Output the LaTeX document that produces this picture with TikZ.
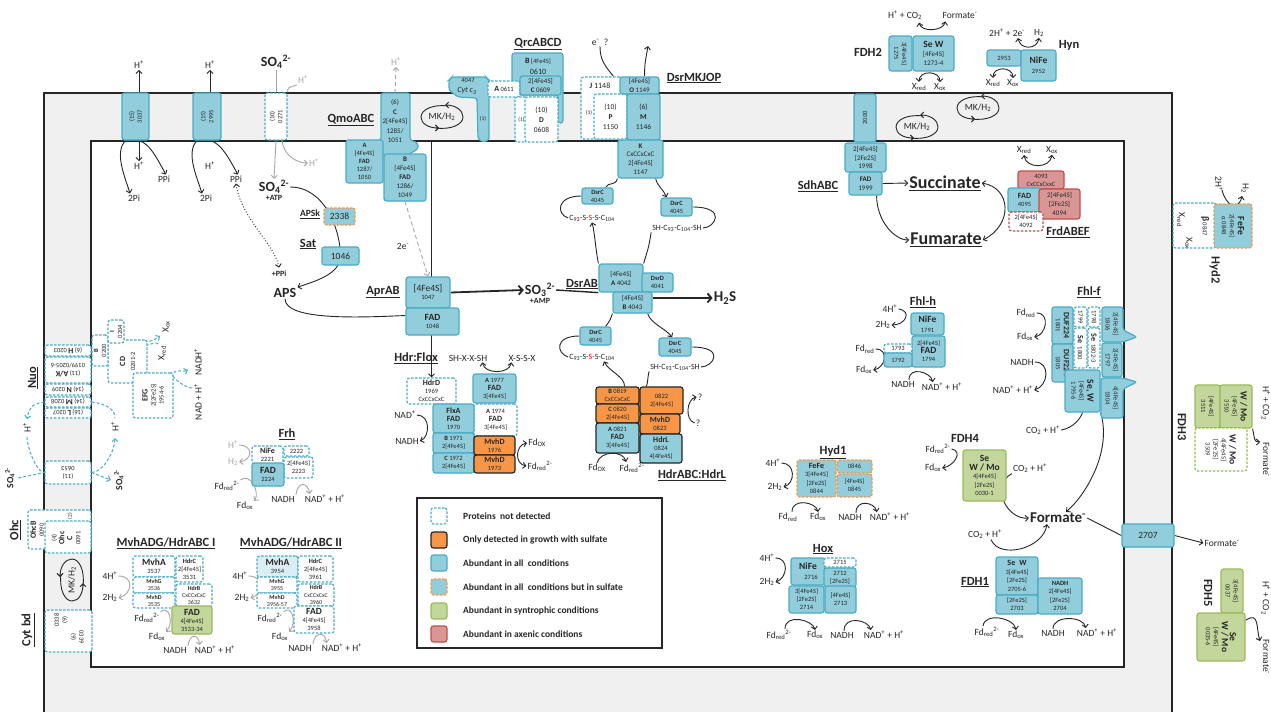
\documentclass[tikz,border=0pt]{standalone}
\usepackage{fontspec}
\setmainfont{Carlito}
\usetikzlibrary{arrows.meta,positioning}
\pgfdeclarelayer{mem}
\pgfdeclarelayer{bg}
\pgfsetlayers{mem,bg,main}

\definecolor{bfill}{HTML}{92CDDC}
\definecolor{bline}{HTML}{4BACC6}
\definecolor{ofill}{HTML}{F79646}
\definecolor{oline}{HTML}{F79646}
\definecolor{gfill}{HTML}{C3D69B}
\definecolor{gline}{HTML}{9BBB59}
\definecolor{rfill}{HTML}{D99694}
\definecolor{rline}{HTML}{C0504D}
\definecolor{lfill}{HTML}{DAEEF3}
\definecolor{memb}{HTML}{F0F0F0}
\definecolor{ink}{HTML}{262626}
\definecolor{gtxt}{HTML}{A6A6A6}

\newcommand{\fsa}{\fontsize{5.5}{6.5}\selectfont}
\newcommand{\fsb}{\fontsize{6.5}{8}\selectfont}
\newcommand{\fsm}{\fontsize{8}{9}\selectfont}
\newcommand{\fsc}{\fontsize{9.5}{10.5}\selectfont}
\newcommand{\fsl}{\fontsize{12.5}{13.5}\selectfont}
\newcommand{\fse}{\fontsize{14}{15}\selectfont}
\newcommand{\fsf}{\fontsize{18}{19}\selectfont}

\newcommand{\hp}{H\textsuperscript{+}}
\newcommand{\htwo}{H\textsubscript{2}}
\newcommand{\sofour}{SO\textsubscript{4}\textsuperscript{2-}}
\newcommand{\fdred}{Fd\textsubscript{red}}
\newcommand{\fdrr}{Fd\textsubscript{red}\textsuperscript{2-}}
\newcommand{\fdox}{Fd\textsubscript{ox}}
\newcommand{\xred}{X\textsubscript{red}}
\newcommand{\xox}{X\textsubscript{ox}}
\newcommand{\nadp}{NAD\textsuperscript{+} + \hp}
\newcommand{\feS}{[4Fe4S]}
\newcommand{\feT}{[2Fe2S]}

% box by corners: [style]{name}{x1}{y1}{x2}{y2}{text}
\newcommand{\bx}[7][bl]{%
  \node[#1,minimum width={(#5-#3)*1pt},minimum height={(#6-#4)*1pt}] (#2) at ({(#3+#5)/2},{(#4+#6)/2}) {#7};}
% box with turned text: ...{text}{angle}
\newcommand{\vbx}[8][bl]{%
  \node[#1,minimum width={(#5-#3)*1pt},minimum height={(#6-#4)*1pt}] (#2) at ({(#3+#5)/2},{(#4+#6)/2}) {};
  \node[txt,rotate=#8] (#2t) at (#2.center) {#7};}
% MK/H2 cycle
\newcommand{\mkcyc}[4]{%
  \node[font=\fsc, text=ink, inner sep=0pt, rotate=#4] (#1) at (#2,#3) {MK/H\textsubscript{2}};
  \begin{scope}[shift={(#2,#3)}, rotate=#4]
    \draw[arr] (6,-11) .. controls (-10,-13) and (-21,-7) .. (-21,0) .. controls (-21,7) and (-13,11) .. (-3,11);
    \draw[arr] (-6,11) .. controls (10,13) and (21,7) .. (21,0) .. controls (21,-7) and (13,-12) .. (3,-12);
  \end{scope}}

\tikzset{
  box/.style={rounded corners=2.5pt, line width=1.2pt, inner sep=0pt, align=center, font=\fsb, text=ink},
  bl/.style={box, draw=bline, fill=bfill},
  nd/.style={box, draw=bline, fill=white, dash pattern=on 2.5pt off 1.5pt},
  od/.style={box, draw=oline, fill=bfill, dash pattern=on 2.5pt off 1.5pt},
  ob/.style={box, draw=ink, fill=ofill},
  bk/.style={box, draw=ink, fill=bfill},
  gb/.style={box, draw=gline, fill=gfill},
  gn/.style={box, draw=gline, fill=white, dash pattern=on 2.5pt off 1.5pt},
  rb/.style={box, draw=rline, fill=rfill},
  rn/.style={box, draw=rline, fill=white, dash pattern=on 2.5pt off 1.5pt},
  lb/.style={box, draw=bline, fill=lfill, dash pattern=on 2.5pt off 1.5pt},
  txt/.style={align=center, inner sep=0pt, font=\fsb, text=ink},
  sm/.style={font=\fsc, text=ink, inner sep=1pt},
  gsm/.style={sm, text=gtxt},
  lbl/.style={font=\fsl\bfseries, text=ink, inner sep=1pt},
  big/.style={font=\fse\bfseries, text=ink, inner sep=1pt},
  lgt/.style={anchor=west, font=\fsc\bfseries, text=ink, inner sep=0pt},
  ln/.style={line width=0.9pt, draw=ink},
  arr/.style={ln, -{Straight Barb[length=3pt,width=6pt]}},
  darr/.style={ln, {Straight Barb[length=3pt,width=6pt]}-{Straight Barb[length=3pt,width=6pt]}},
  garr/.style={arr, draw=gtxt},
  gln/.style={ln, draw=gtxt},
  tarr/.style={line width=1.8pt, draw=ink, -{Straight Barb[length=4pt,width=9pt]}},
  bdln/.style={line width=1pt, draw=bline, dash pattern=on 3pt off 2pt},
  bdarr/.style={bdln, -{Straight Barb[length=3pt,width=6pt]}}
}

\begin{document}
\begin{tikzpicture}[x=1pt,y=-1pt]
\useasboundingbox (0,0) rectangle (1271,712);
\begin{pgfonlayer}{mem}
  \fill[white] (0,0) rectangle (1271,712);
  \fill[memb] (44,93) rectangle (1172,712);
  \fill[white] (91,141) rectangle (1124,667);
  \draw[line width=1.6pt, draw=ink] (44,712) -- (44,93) -- (1172,93) -- (1172,712);
  \draw[line width=1.6pt, draw=ink] (91,141) rectangle (1124,667);
\end{pgfonlayer}

% pyrophosphatases and sulfate uptake
\vbx[bl]{t3037}{122}{93}{149}{140}{(15)\\3037}{90}
\vbx[bl]{t2995}{193}{93}{221}{140}{(15)\\2995}{90}
\vbx[nd]{t0271}{265}{93}{287}{140}{(10)\\0271}{90}
\node[sm] (hA) at (139,65) {\hp};
\node[sm] (hB) at (139,166) {\hp};
\node[sm] (piA) at (134,198) {2Pi};
\node[sm] (ppA) at (164,179) {PPi};
\node[sm] (hC) at (210,65) {\hp};
\node[sm] (hD) at (210,166) {\hp};
\node[sm] (piB) at (206,198) {2Pi};
\node[sm] (ppB) at (236,179) {PPi};
\node[big] (so4a) at (276,62) {\sofour};
\node[gsm] (hE) at (303,80) {\hp};
\node[gsm] (hF) at (314,163) {\hp};
\node[big] (so4b) at (274,187) {\sofour};
\node[font=\fsm\bfseries, text=ink, inner sep=0pt, below=0pt of so4b] (atp) {+ATP};

% APS branch
\node[lbl, font=\fsc\bfseries] (apsk) at (310,214) {\underline{APSk}};
\bx[od]{k2338}{324}{208}{355}{225}{\fsc 2338}
\node[lbl] (sat) at (308,244) {\underline{Sat}};
\bx[bl]{s1046}{322}{247}{359}{265}{\fsc 1046}
\node[big] (aps) at (285,293) {APS};
\node[font=\fsm\bfseries, text=ink] (ppi) at (279,274) {+PPi};
\node[lbl] (apr) at (383,292) {\underline{AprAB}};
\bx[bl]{a1047}{406}{277}{450}{308}{\fsc \feS\\1047}
\bx[bl]{a1048}{406}{308}{459}{335}{\fsc\bfseries FAD\\\mdseries 1048}
\node[big] (so3) at (540,290) {SO\textsubscript{3}\textsuperscript{2-}};
\node[font=\fsm\bfseries, text=ink, inner sep=0pt, below=0pt of so3] (amp) {+AMP};

% QmoABC
\node[lbl] (qmo) at (351,120) {\underline{QmoABC}};
\draw[bl] (381,93) -- (410,93) -- (410,140) -- (418,143) -- (418,149) -- (404,157) -- (388,157) -- (374,149) -- (374,143) -- (381,140) -- cycle;
\node[txt, font=\fontsize{7}{9.5}\selectfont] (qmoCt) at (395,121) {(6)\\\textbf{C}\\2\feS\\1285/\\1051};
\coordinate (qmoCtop) at (395,93);
\bx[bl]{qmoA}{346}{140}{383}{183}{\textbf{A}\\\feS\\\textbf{FAD}\\1287/\\1050}
\bx[bl,font=\fontsize{7}{9}\selectfont]{qmoB}{384}{154}{426}{201}{\textbf{B}\\\feS\\\textbf{FAD}\\1286/\\1049}
\node[gsm] (hG) at (396,62) {\hp};
\node[sm] (e2) at (403,246) {2e\textsuperscript{-}};
\mkcyc{mk1}{442}{117}{0}

% Cyt c3 and QrcABCD
\draw[bl] (452,77) -- (486,77) -- (489,80) -- (489,140) -- (483,142) -- (478,139) -- (477,98) -- (458,97) -- (449,90) -- (449,80) -- cycle;
\node[txt] (cytn) at (468,80) {4047};
\node[txt, font=\fsm\itshape] (cytc) at (467,91) {Cyt c\textsubscript{3}};
\node[txt, font=\fsa] (cyt1) at (483,119) {(1)};
\node[lbl] (qrc) at (538,44) {\underline{QrcABCD}};
\draw[bl] (512,53) -- (563,53) -- (563,123) -- (558,123) -- (558,95) -- (512,95) -- cycle;
\node[txt] (qrcBt) at (538,61) {{\fsm\bfseries B} \feS};
\node[txt, font=\fsm] (qrcBn) at (538,72) {0610};
\bx[nd]{qrcA}{488}{81}{520}{97}{{\fsm\bfseries A} 0611}
\bx[nd]{qrc1}{515}{97}{528}{142}{\fsa (1)}
\bx[nd,font=\fontsize{7.5}{10}\selectfont]{qrcD}{525}{97}{558}{142}{(10)\\\textbf{D}\\0608}
\bx[bl,font=\fontsize{7}{9}\selectfont]{qrcC}{520}{76}{561}{95}{2\feS\\\textbf{C} 0609}

% DsrMKJOP
\node[lbl] (dsrm) at (694,78) {\underline{DsrMKJOP}};
\node[sm] (eq) at (600,42) {e\textsuperscript{-}\enspace ?};
\coordinate (oup) at (648,46);
\bx[nd]{dJ}{581}{77}{622}{139}{}
\node[txt, font=\fsm] (dJt) at (600,86) {\textbf{J} 1148};
\node[txt, font=\fsa] (dJ1) at (589,113) {(1)};
\bx[nd,font=\fontsize{7.5}{10}\selectfont]{dP}{594}{94}{627}{139}{(10)\\\textbf{P}\\1150}
\bx[bl,font=\fontsize{7}{9}\selectfont]{dO}{620}{77}{659}{94}{\feS\\\textbf{O} 1149}
\bx[bl,font=\fontsize{7.5}{10}\selectfont]{dM}{627}{94}{660}{140}{(6)\\\textbf{M}\\1146}
\bx[bl,font=\fontsize{7}{8.7}\selectfont]{dK}{618}{140}{663}{178}{\textbf{K}\\CxCCxCxC\\2\feS\\1147}
\bx[bl]{dc1}{582}{188}{613}{204}{\textbf{DsrC}\\4045}
\node[sm, font=\fsm] (c93a) at (592,218) {C\textsubscript{93}-S-\textcolor{red}{S}-S-C\textsubscript{104}};
\bx[bl]{dc2}{661}{198}{692}{216}{\textbf{DsrC}\\4045}
\node[sm, font=\fsm] (sh1) at (677,228) {SH-C\textsubscript{93}-C\textsubscript{104}-SH};

% DsrAB
\node[lbl] (dsrab) at (582,284) {\underline{DsrAB}};
\bx[bl,font=\fontsize{7}{9}\selectfont]{dA}{599}{264}{643}{292}{\feS\\\textbf{A} 4042}
\bx[bl]{dD}{642}{273}{673}{292}{\textbf{DsrD}\\4041}
\bx[bl,font=\fontsize{7}{9}\selectfont]{dB}{613}{292}{652}{313}{\feS\\\textbf{B} 4043}
\node[big, font=\fontsize{15}{16}\selectfont\bfseries] (h2s) at (725,298) {H\textsubscript{2}S};
\bx[bl]{dc3}{580}{327}{611}{345}{\textbf{DsrC}\\4045}
\node[sm, font=\fsm] (c93b) at (592,357) {C\textsubscript{93}-S-\textcolor{red}{S}-S-C\textsubscript{104}};
\bx[bl]{dc4}{659}{338}{691}{356}{\textbf{DsrC}\\4045}
\node[sm, font=\fsm] (sh2) at (675,367) {SH-C\textsubscript{93}-C\textsubscript{104}-SH};

% HdrABC:HdrL
\bx[ob]{h19}{596}{387}{639}{404}{\textbf{B} 0819\\CxCCxCxC}
\bx[ob]{h20}{596}{404}{639}{423}{\textbf{C} 0820\\2\feS}
\bx[bk]{h21}{596}{423}{639}{453}{\textbf{A} 0821\\{\fsm\bfseries FAD}\\3\feS}
\bx[ob]{h22}{640}{387}{683}{414}{0822\\2\feS}
\bx[ob]{h23}{640}{414}{680}{434}{{\fsm\bfseries MvhD}\\0823}
\bx[bk]{h24}{640}{434}{682}{463}{{\fsm\bfseries HdrL}\\0824\\4\feS}
\node[sm] (q1) at (700,397) {?};
\node[sm] (q2) at (698,423) {?};
\node[sm] (fdo3) at (597,468) {Fd\textsubscript{OX}};
\node[sm] (fdr3) at (632,468) {\fdrr};
\node[lbl] (hdrl) at (692,475) {\underline{HdrABC:HdrL}};

% Hdr:Flox
\node[lbl] (flox) at (416,358) {\underline{Hdr:Flox}};
\node[sm] (shx) at (468,358) {SH-X-X-SH};
\node[sm] (xss) at (522,358) {X-S-S-X};
\bx[nd]{hD}{407}{378}{456}{404}{{\fsm\bfseries HdrD}\\1969\\CxCCxCxC}
\bx[bl]{fA7}{473}{374}{516}{403}{\textbf{A} 1977\\{\fsm\bfseries FAD}\\3\feS}
\bx[nd]{fA4}{474}{404}{517}{436}{\textbf{A} 1974\\{\fsm\bfseries FAD}\\3\feS}
\bx[bl]{flx}{433}{404}{474}{433}{{\fsm\bfseries FlxA}\\{\fsm\bfseries FAD}\\1970}
\bx[bl]{fB}{433}{433}{474}{453}{\textbf{B} 1971\\2\feS}
\bx[bl]{fC}{433}{453}{474}{473}{\textbf{C} 1972\\2\feS}
\bx[ob]{m76}{474}{436}{515}{455}{{\fsm\bfseries MvhD}\\1976}
\bx[ob]{m73}{474}{455}{515}{473}{{\fsm\bfseries MvhD}\\1973}
\node[sm] (nadA) at (405,415) {NAD\textsuperscript{+}};
\node[sm] (nadhA) at (407,441) {NADH};
\node[sm] (fdoA) at (537,443) {Fd\textsubscript{OX}};
\node[sm] (fdrA) at (540,466) {\fdrr};

% Frh
\node[lbl] (frh) at (287,434) {\underline{Frh}};
\bx[nd]{frA}{252}{446}{283}{464}{{\fsm\bfseries NiFe}\\2221}
\bx[nd]{frG}{284}{446}{309}{456}{2222}
\bx[nd]{frB}{284}{457}{313}{478}{2\feS\\2223}
\bx[bl]{frF}{252}{463}{284}{486}{{\fsc\bfseries FAD}\\2224}
\node[gsm] (hFr) at (233,445) {\hp};
\node[gsm] (h2Fr) at (233,462) {\htwo};
\node[sm] (fdrFr) at (227,486) {\fdrr};
\node[sm] (fdoFr) at (245,506) {\fdox};
\node[sm] (nadhFr) at (283,499) {NADH};
\node[sm] (nadFr) at (325,499) {\nadp};

% Nuo
\node[lbl, rotate=90] (nuo) at (33,378) {\underline{Nuo}};
\vbx[nd]{nH}{45}{345}{91}{356}{(6) {\fsm\bfseries H} 0203}{180}
\vbx[nd]{nAK}{45}{357}{91}{383}{(11) {\fsm\bfseries A/K}\\0199/0205-6}{180}
\vbx[nd]{nN}{45}{384}{91}{395}{(14) {\fsm\bfseries N} 0209}{180}
\vbx[nd]{nM}{45}{397}{91}{407}{(14) {\fsm\bfseries M} 0208}{180}
\vbx[nd]{nL}{45}{408}{91}{418}{(16) {\fsm\bfseries L} 0207}{180}
\vbx[nd]{nCD}{108}{340}{147}{383}{{\fsm\bfseries CD}\\[2pt]0201-2}{90}
\vbx[nd]{nB}{92}{335}{108}{366}{\textbf{B}\\0200}{90}
\vbx[nd]{nI}{108}{320}{124}{343}{\textbf{I}\\0204}{90}
\vbx[nd]{nEFG}{133}{373}{173}{418}{{\fsm\bfseries EFG}\\2\feT\\1954-6}{90}
\node[sm, rotate=90] (xoxN) at (166,327) {\xox};
\node[sm, rotate=90] (xredN) at (162,353) {\xred};
\node[sm, rotate=90] (nadhN) at (198,362) {NADH\textsuperscript{+}};
\node[sm, rotate=90] (nadN) at (198,402) {NAD + \hp};
\node[sm, rotate=90] (hNl) at (27,428) {\hp};
\node[sm, rotate=90] (hNr) at (115,427) {\hp};
\vbx[nd]{p653}{45}{461}{91}{484}{(11)\\0653}{180}
\node[font=\fsc\bfseries, text=ink, rotate=90] (so4L) at (10,478) {\sofour};
\node[font=\fsc\bfseries, text=ink, rotate=90] (so4R) at (119,480) {\sofour};

% Ohc, MK, Cyt bd
\node[lbl, rotate=90] (ohc) at (15,530) {\underline{Ohc}};
\bx[nd]{ohB}{28}{510}{91}{549}{}
\node[txt, rotate=90] (ohBt) at (37,530) {{\fsm\bfseries OhcB}\\0090};
\bx[nd]{ohC}{45}{521}{91}{553}{}
\node[txt, rotate=90] (ohCt) at (66,538) {(4)\\{\fsm\bfseries Ohc}\\{\fsm\bfseries C}\\0091};
\node[txt, font=\fsa, rotate=90] (ohC2) at (70,516) {(2)};
\mkcyc{mk4}{72}{580}{90}
\node[lbl, rotate=90] (cbd) at (28,630) {\underline{Cyt bd}};
\bx[nd]{cbd1}{45}{610}{92}{652}{}
\node[txt, rotate=90] (cbdA) at (61,620) {0338\\(9)};
\node[txt, rotate=-90] (cbdB) at (77,637) {0339\\(9)};

% MvhADG/HdrABC I
\node[lbl] (mv1) at (166,543) {\underline{MvhADG/HdrABC I}};
\bx[nd]{mA1}{133}{556}{175}{577}{{\fsc\bfseries MvhA}\\3537}
\bx[nd]{hC1}{176}{556}{203}{582}{\textbf{HdrC}\\2\feS\\3531}
\bx[nd,font=\fontsize{6}{7}\selectfont]{mG1}{133}{577}{175}{593}{\textbf{MvhG}\\3536}
\bx[nd,font=\fontsize{6}{7}\selectfont]{mD1}{133}{593}{175}{608}{\textbf{MvhD}\\3535}
\bx[nd,font=\fontsize{6}{7.3}\selectfont]{hB1}{176}{584}{212}{607}{\textbf{HdrB}\\CxCCxCxC\\3632}
\bx[gb]{fad1}{172}{606}{212}{634}{{\fsc\bfseries FAD}\\4\feS\\3533-34}
\node[sm] (h4a) at (110,576) {4\hp};
\node[sm] (h2a) at (110,598) {2\htwo};
\node[sm] (fdra) at (147,618) {\fdrr};
\node[sm] (fdoa) at (157,637) {\fdox};
\node[sm] (nadha) at (175,650) {NADH};
\node[sm] (nada) at (215,650) {\nadp};

% MvhADG/HdrABC II
\node[lbl] (mv2) at (291,543) {\underline{MvhADG/HdrABC II}};
\bx[lb]{mA2}{257}{556}{298}{577}{{\fsc\bfseries MvhA}\\3954}
\bx[nd]{hC2}{298}{556}{333}{582}{\textbf{HdrC}\\2\feS\\3961}
\bx[nd,font=\fontsize{6}{7}\selectfont]{mG2}{257}{577}{297}{593}{\textbf{MvhG}\\3955}
\bx[nd,font=\fontsize{6}{7}\selectfont]{mD2}{257}{593}{297}{608}{\textbf{MvhD}\\3956-57}
\bx[nd,font=\fontsize{6}{7.3}\selectfont]{hB2}{298}{584}{334}{606}{\textbf{HdrB}\\CxCCxCxC\\3960}
\bx[nd]{fad2}{294}{606}{334}{633}{{\fsc\bfseries FAD}\\4\feS\\3958}
\node[sm] (h4e) at (240,576) {4\hp};
\node[sm] (h2e) at (242,598) {2\htwo};
\node[sm] (fdrE) at (270,618) {\fdrr};
\node[sm] (fdoE) at (280,637) {\fdox};
\node[sm] (nadhE) at (300,648) {NADH};
\node[sm] (nadE) at (342,648) {\nadp};

% legend
\node[draw=ink, line width=1.3pt, minimum width=245pt, minimum height=150pt, inner sep=0pt] (leg) at (539.5,573) {};
\bx[nd]{sw1}{431}{508}{447}{524}{}
\bx[ob]{sw2}{431}{532}{447}{548}{}
\bx[bl]{sw3}{431}{555}{447}{571}{}
\bx[od]{sw4}{431}{579}{447}{595}{}
\bx[gb]{sw5}{431}{603}{447}{619}{}
\bx[rb]{sw6}{431}{626}{447}{642}{}
\node[lgt] (lt1) at (463,516) {Proteins\ \ not detected};
\node[lgt] (lt2) at (463,540) {Only detected in growth with sulfate};
\node[lgt] (lt3) at (463,563) {Abundant in all\ \ conditions};
\node[lgt] (lt4) at (463,587) {Abundant in all\ \ conditions but in sulfate};
\node[lgt] (lt5) at (463,611) {Abundant in syntrophic conditions};
\node[lgt] (lt6) at (463,634) {Abundant in axenic conditions};

% Hyd1
\node[lbl] (hyd1) at (833,452) {\underline{Hyd1}};
\bx[od,font=\fontsize{6.5}{8.3}\selectfont]{hy44}{797}{460}{836}{497}{{\fsm\bfseries FeFe}\\3\feS\\\feT\\0844}
\bx[od]{hy46}{837}{460}{872}{473}{0846}
\bx[od]{hy45}{837}{474}{872}{497}{\feS\\0845}
\node[sm] (h4b) at (773,463) {4\hp};
\node[sm] (h2b) at (775,487) {2\htwo};
\node[sm] (fdrb) at (788,517) {\fdred};
\node[sm] (fdob) at (818,517) {\fdox};
\node[sm] (nadhb) at (850,517) {NADH};
\node[sm] (nadb) at (890,517) {\nadp};

% Hox
\node[lbl] (hox) at (823,549) {\underline{Hox}};
\bx[bl]{hx16}{791}{558}{825}{585}{{\fsc\bfseries NiFe}\\[2pt]\hspace*{6pt}2716}
\bx[nd]{hx15}{824}{558}{856}{567}{2715}
\bx[bl]{hx12}{824}{568}{856}{587}{2712\\\feT}
\bx[bl]{hx14}{789}{586}{824}{613}{3\feS\\\feT\\2714}
\bx[bl]{hx13}{825}{586}{856}{613}{\feS\\2713}
\node[sm] (h4c) at (767,558) {4\hp};
\node[sm] (h2c) at (767,582) {2\htwo};
\node[sm] (fdrc) at (779,635) {\fdrr};
\node[sm] (fdoc) at (815,635) {\fdox};
\node[sm] (nadhc) at (842,635) {NADH};
\node[sm] (nadc) at (884,635) {\nadp};

% Fhl-h
\node[lbl] (fhlh) at (923,302) {\underline{Fhl-h}};
\bx[bl]{fh91}{911}{313}{944}{335}{{\fsc\bfseries NiFe}\\[2pt]1791}
\bx[bl]{fh94}{912}{336}{945}{367}{2\feS\\{\fsc\bfseries FAD}\\1794}
\bx[nd]{fh93}{884}{344}{912}{353}{1793}
\bx[bl]{fh92}{884}{353}{912}{367}{1792}
\node[sm] (h4d) at (890,309) {4\hp};
\node[sm] (h2d) at (883,325) {2\htwo};
\node[sm] (fdrd) at (865,349) {\fdred};
\node[sm] (fdod) at (864,370) {\fdox};
\node[sm] (nadhd) at (903,384) {NADH};
\node[sm] (nadd) at (942,387) {\nadp};

% SdhABC and FrdABEF
\node[lbl] (sdh) at (818,186) {\underline{SdhABC}};
\vbx[bl]{s2000}{854}{94}{876}{142}{2000}{90}
\bx[bl,font=\fontsize{7}{8.7}\selectfont]{s1998}{845}{143}{886}{172}{2\feS\\\feT\\1998}
\bx[bl,font=\fontsize{7}{9}\selectfont]{s1999}{849}{172}{882}{195}{\textbf{FAD}\\1999}
\mkcyc{mk2}{917}{127}{0}
\mkcyc{mk3}{978}{108}{0}
\node[font=\fsf\bfseries, text=ink, inner sep=1pt] (succ) at (945,183) {\underline{Succinate}};
\node[font=\fsf\bfseries, text=ink, inner sep=1pt] (fum) at (946,240) {\underline{Fumarate}};
\bx[rb]{fr93}{1018}{171}{1064}{189}{4093\\CxCCxCxxC}
\bx[bl]{fr95}{1008}{188}{1041}{212}{{\fsm\bfseries FAD}\\4095}
\bx[rb,font=\fontsize{7}{8.7}\selectfont]{fr94}{1039}{189}{1080}{219}{2\feS\\\feT\\4094}
\bx[rn]{fr92}{1009}{212}{1043}{231}{2\feS\\4092}
\node[lbl] (frd) at (1068,232) {\underline{FrdABEF}};
\node[sm] (xrf) at (1024,150) {\xred};
\node[sm] (xof) at (1052,150) {\xox};

% FDH2 and Hyn
\node[lbl] (fdh2) at (868,52) {FDH2};
\vbx[bl]{f2a}{889}{36}{912}{71}{3\feS\\1275}{-90}
\bx[bl,font=\fontsize{7}{9}\selectfont]{f2b}{913}{36}{954}{71}{{\fsc\bfseries Se W}\\\feS\\1273-4}
\node[sm] (hco2a) at (905,15) {\hp\ + CO\textsubscript{2}};
\node[sm] (forma) at (960,15) {Formate\textsuperscript{-}};
\node[sm] (xra) at (919,87) {\xred};
\node[sm] (xoa) at (940,87) {\xox};
\node[lbl] (hyn) at (1069,45) {Hyn};
\bx[bl]{y53}{987}{50}{1021}{66}{2953}
\bx[bl]{y52}{1021}{50}{1056}{81}{{\fsc\bfseries NiFe}\\[2pt]2952}
\node[sm] (h2eb) at (1007,33) {2\hp\ + 2e\textsuperscript{-}};
\node[sm] (h2y) at (1039,33) {\htwo};
\node[sm] (xry) at (993,83) {\xred};
\node[sm] (xoy) at (1013,83) {\xox};

% Hyd2
\node[lbl, rotate=-90] (hyd2) at (1215,270) {Hyd2};
\bx[nd]{hy47}{1173}{203}{1216}{248}{}
\node[txt, rotate=-90] (hy47t) at (1205,226) {{\fsc\bfseries β} 0847};
\node[sm, rotate=-90] (xrh) at (1181,220) {\xred};
\node[sm, rotate=-90] (xoh) at (1189,243) {\xox};
\vbx[od]{hy48}{1214}{204}{1252}{248}{{\fsc\bfseries FeFe}\\2\feS\\α 0848}{-90}
\node[sm, rotate=-90] (h2hp) at (1219,184) {2\hp};
\node[sm, rotate=-90] (h2h) at (1245,188) {\htwo};

% Fhl-f
\node[lbl] (fhlf) at (1089,292) {\underline{Fhl-f}};
\vbx[bl]{fd01}{1052}{307}{1073}{344}{{\fsm\bfseries DUF224}\\1801}{-90}
\vbx[bl]{fd05}{1052}{344}{1073}{382}{{\fsm\bfseries DUF224}\\1805}{-90}
\vbx[nd]{f1799}{1074}{307}{1087}{327}{1799}{-90}
\vbx[nd]{f1798}{1088}{307}{1100}{327}{1798}{-90}
\vbx[nd]{f1800}{1074}{328}{1087}{368}{{\fsm\bfseries Se}\enspace 1800}{-90}
\vbx[nd]{f1802}{1088}{328}{1100}{368}{{\fsm\bfseries Se}\enspace 1802-3}{-90}
\draw[bl] (1102,307) -- (1123,307) -- (1123,330) -- (1137,337) -- (1123,342) -- (1102,342) -- cycle;
\node[txt, rotate=-90] (f1806t) at (1112,324) {2\feS\\1806};
\vbx[bl]{f1797}{1102}{343}{1122}{377}{2\feS\\1797}{-90}
\vbx[bl]{fw}{1065}{370}{1100}{412}{{\fsc\bfseries Se, W}\\\feS\\1795-6}{-90}
\draw[bl] (1101,378) -- (1123,378) -- (1137,382) -- (1123,389) -- (1123,418) -- (1101,418) -- cycle;
\node[txt, rotate=-90] (f1804t) at (1112,398) {4\feS\\1804};
\node[sm] (fdrf) at (1026,313) {\fdred};
\node[sm] (fdof) at (1025,337) {\fdox};
\node[sm] (nadhf) at (1022,362) {NADH};
\node[sm] (nadf) at (1013,390) {\nadp};
\node[sm] (co2f) at (1043,430) {CO\textsubscript{2} + \hp};

% FDH4, FDH1, formate transport
\node[lbl] (fdh4) at (965,438) {FDH4};
\bx[gb,font=\fontsize{6.5}{8.5}\selectfont]{f4}{963}{450}{1006}{501}{{\fsc\bfseries Se}\\{\fsc\bfseries W / Mo}\\4\feS\\\feT\\0030-1}
\node[sm] (fdre) at (938,449) {\fdrr};
\node[sm] (fdoe) at (933,468) {\fdox};
\node[sm] (co2e) at (1030,468) {CO\textsubscript{2} + \hp};
\node[font=\fontsize{15}{16}\selectfont\bfseries, text=ink, inner sep=1pt] (form) at (1058,518) {Formate\textsuperscript{-}};
\node[lbl] (fdh1) at (975,582) {\underline{FDH1}};
\bx[bl,font=\fontsize{6.5}{8.5}\selectfont]{f1a}{996}{557}{1038}{595}{{\fsm\bfseries Se\enspace W}\\3\feS\\\feT\\2705-6}
\bx[bl]{f1b}{996}{595}{1038}{614}{\feT\\2703}
\bx[bl,font=\fontsize{6.5}{8.5}\selectfont]{f1c}{1038}{578}{1082}{614}{\textbf{NADH}\\2\feS\\\feT\\2704}
\node[sm] (co2g) at (985,534) {CO\textsubscript{2} + \hp};
\node[sm] (fdrg) at (987,632) {\fdrr};
\node[sm] (fdog) at (1016,635) {\fdox};
\node[sm] (nadhg) at (1053,633) {NADH};
\node[sm] (nadg) at (1097,633) {\nadp};
\bx[bl]{t2707}{1122}{524}{1174}{547}{\fsc 2707}
\node[sm] (formO) at (1222,543) {Formate\textsuperscript{-}};

% FDH3 and FDH5
\node[lbl, rotate=-90] (fdh3) at (1182,427) {FDH3};
\vbx[gb]{f11}{1195}{385}{1220}{428}{\feS\\3511}{-90}
\vbx[gb]{f10}{1220}{385}{1252}{428}{{\fsc\bfseries W / Mo}\\\feS\\3510}{-90}
\vbx[gn]{f09}{1195}{428}{1247}{471}{{\fsc\bfseries W / Mo}\\4\feS\\\feT\\3509}{-90}
\node[sm, rotate=-90] (hco2b) at (1266,403) {\hp\ + CO\textsubscript{2}};
\node[sm, rotate=-90] (formb) at (1266,460) {Formate\textsuperscript{-}};
\node[lbl, rotate=-90] (fdh5) at (1208,593) {FDH5};
\vbx[gb]{f37}{1221}{569}{1243}{613}{3\feS\\0037}{-90}
\vbx[gb]{f35}{1197}{613}{1245}{661}{{\fsc\bfseries Se}\\{\fsc\bfseries W / Mo}\\\feS\\0035-6}{-90}
\node[sm, rotate=-90] (hco2c) at (1266,598) {\hp\ + CO\textsubscript{2}};
\node[sm, rotate=-90] (formc) at (1266,657) {Formate\textsuperscript{-}};

% connectors
\begin{pgfonlayer}{bg}
  \draw[arr] (hA |- t3037.north) -- (hA.south);
  \draw[arr] (hB |- t3037.south) -- (hB.north);
  \draw[arr] ([shift={(-10,0)}]t3037.south) .. controls +(-12,12) and +(-4,-14) .. ([shift={(-4,0)}]piA.north);
  \draw[arr] ([shift={(3,0)}]t3037.south) .. controls +(12,2) and +(-6,-10) .. ([shift={(2,0)}]ppA.north);
  \draw[arr] (hC |- t2995.north) -- (hC.south);
  \draw[arr] (hD |- t2995.south) -- (hD.north);
  \draw[arr] ([shift={(-10,0)}]t2995.south) .. controls +(-12,12) and +(-4,-14) .. ([shift={(-4,0)}]piB.north);
  \draw[arr] ([shift={(3,0)}]t2995.south) .. controls +(12,2) and +(-6,-10) .. ([shift={(2,0)}]ppB.north);
  \draw[gln] (so4a) -- (t0271.north);
  \draw[gln] (hE.south west) .. controls +(-8,3) and +(0,-6) .. (t0271.north east);
  \draw[garr] (t0271.south) -- (so4b.north);
  \draw[garr] ([shift={(6,0)}]t0271.south) .. controls +(2,16) and +(-10,0) .. (hF.west);
  \draw[arr] (so4b.east) .. controls +(35,0) and +(0,-25) .. (s1046.center) .. controls +(0,18) and +(18,-6) .. (aps.north east);
  \draw[ln, dotted, {Straight Barb[length=3pt,width=6pt]}-{Straight Barb[length=3pt,width=6pt]}] (ppB.south) .. controls +(5,35) and +(-5,-25) .. (ppi.north);
  \draw[ln] (aps.south) .. controls +(0,22) and +(-45,2) .. ([shift={(0,-6)}]a1048.west);
  \draw[tarr] (a1047.east) -- (so3.west);
  \draw[garr, dash pattern=on 4pt off 3pt] (qmoCtop) -- (hG.south);
  \draw[garr, dash pattern=on 4pt off 3pt] (qmoB.south) -- (a1047.north);
  \draw[ln] (eq.south) .. controls +(0,14) and +(-8,-10) .. ([shift={(12,0)}]dJ.north);
  \draw[arr] ([shift={(5,0)}]dO.north) .. controls +(0,-14) and +(-2,12) .. (oup);
  \draw[ln] (dK.south west) .. controls +(-2,8) and +(3,-6) .. ([shift={(8,0)}]dc1.north);
  \draw[arr] ([shift={(-8,0)}]dK.south east) .. controls +(2,8) and +(-3,-8) .. ([shift={(-10,0)}]dc2.north);
  \draw[ln] (dc1.west) .. controls +(-25,0) and +(-12,-4) .. (c93a.west);
  \draw[ln] (dc2.east) .. controls +(35,0) and +(12,0) .. (sh1.east);
  \draw[ln, line width=1.4pt] (so3.east) -- (dA.south west);
  \draw[tarr] (dB.east |- h2s.west) -- (h2s.west);
  \draw[arr] (dA.north west) .. controls +(-3,-15) and +(3,12) .. (c93a.south);
  \draw[ln] (sh1.south west) .. controls +(-2,15) and +(3,-10) .. (dA.north east);
  \draw[arr] ([shift={(-5,0)}]dB.south east) .. controls +(3,10) and +(-5,-8) .. ([shift={(-3,0)}]dc4.north);
  \draw[ln] (dB.south west) .. controls +(-2,6) and +(4,-5) .. ([shift={(-6,0)}]dc3.north east);
  \draw[ln] (dc3.west) .. controls +(-25,0) and +(-12,-4) .. (c93b.west);
  \draw[ln] (dc4.east) .. controls +(35,0) and +(12,0) .. (sh2.east);
  \draw[arr] ([shift={(-15,0)}]h19.north east) .. controls +(0,-10) and +(5,10) .. ([shift={(12,0)}]c93b.south);
  \draw[ln] (sh2.south west) .. controls +(-2,8) and +(2,-6) .. ([shift={(7,0)}]h22.north west);
  \draw[arr] (q2.west) .. controls +(-10,-3) and +(-10,2) .. (q1.west);
  \draw[arr] (fdo3.north) .. controls +(3,-12) and +(-3,-12) .. ([shift={(-6,0)}]fdr3.north);
  \draw[darr] ([shift={(-6,0)}]shx.south east) .. controls +(2,12) and +(-2,12) .. ([shift={(4,0)}]xss.south west);
  \draw[arr] (nadA.east) .. controls +(14,0) and +(10,-4) .. (nadhA.east);
  \draw[darr] (fdoA.west) .. controls +(-12,2) and +(-12,-2) .. (fdrA.west);
  \draw[garr] (hFr.east) .. controls +(14,0) and +(14,-2) .. (h2Fr.east);
  \draw[garr] (fdrFr.north east) .. controls +(10,-8) and +(6,-8) .. (fdoFr.north east);
  \draw[garr] (nadhFr.north east) .. controls +(2,-14) and +(-2,-12) .. ([shift={(6,0)}]nadFr.north west);
  \draw[bdarr] (nI.south east) .. controls +(25,0) and +(-6,4) .. ([shift={(-6,9)}]xoxN.center);
  \draw[bdln] ([shift={(-4,-9)}]xredN.center) .. controls +(-3,-4) and +(0,5) .. ([shift={(20,0)}]nI.south east);
  \draw[bdarr] (nEFG.north east) .. controls +(5,-4) and +(-8,3) .. ([shift={(-10,8)}]nadhN.center);
  \draw[bdln] ([shift={(-6,-14)}]nadN.center) .. controls +(-6,0) and +(0,6) .. ([shift={(-2,0)}]nEFG.north east);
  \draw[bdarr] (nM.west) .. controls +(-14,2) and +(2,-10) .. ([shift={(0,-9)}]hNl.center);
  \draw[bdln] ([shift={(0,9)}]hNl.center) .. controls +(0,10) and +(-8,0) .. (p653.west);
  \draw[bdln] (nM.east) .. controls +(16,2) and +(0,-8) .. ([shift={(0,-9)}]hNr.center);
  \draw[bdarr] (p653.east) .. controls +(12,0) and +(0,12) .. ([shift={(0,11)}]hNr.center);
  \draw[bdln] (so4L.south) -- (p653.west);
  \draw[bdarr] (p653.east) -- (so4R.north);
  \draw[bdln] ([shift={(0,3)}]cbd1.north east) -- ([shift={(13,27)}]cbd1.north west) -- ([shift={(0,27)}]cbd1.north west);
  \draw[garr] (h4a.east) .. controls +(16,0) and +(14,-4) .. (h2a.east);
  \draw[garr] (fdra.north east) .. controls +(8,-8) and +(8,-10) .. (fdoa.north east);
  \draw[garr] (nadha.north east) .. controls +(2,-12) and +(-2,-12) .. ([shift={(6,0)}]nada.north west);
  \draw[garr] (h4e.east) .. controls +(16,0) and +(14,-4) .. (h2e.east);
  \draw[garr] (fdrE.north east) .. controls +(8,-8) and +(8,-10) .. (fdoE.north east);
  \draw[garr] (nadhE.north east) .. controls +(2,-12) and +(-2,-12) .. ([shift={(6,0)}]nadE.north west);
  \draw[arr] (h4b.east) .. controls +(14,0) and +(12,-4) .. (h2b.east);
  \draw[arr] ([shift={(4,0)}]fdrb.north) .. controls +(0,-14) and +(-2,-10) .. (fdob.north);
  \draw[arr] ([shift={(6,0)}]nadhb.north) .. controls +(0,-14) and +(-2,-10) .. ([shift={(8,0)}]nadb.north west);
  \draw[arr] (h4c.east) .. controls +(14,0) and +(12,-4) .. (h2c.east);
  \draw[arr] ([shift={(6,0)}]fdrc.north) .. controls +(0,-16) and +(-2,-10) .. (fdoc.north);
  \draw[arr] ([shift={(2,0)}]nadhc.north) .. controls +(0,-16) and +(-2,-10) .. ([shift={(8,0)}]nadc.north west);
  \draw[arr] (h4d.east) .. controls +(14,2) and +(14,0) .. (h2d.east);
  \draw[arr] (fdrd.east) .. controls +(14,0) and +(12,-2) .. (fdod.east);
  \draw[arr] ([shift={(6,0)}]nadhd.north) .. controls +(0,-14) and +(-2,-10) .. ([shift={(12,0)}]nadd.north west);
  \draw[arr] (s1999.east) -- (succ.west);
  \draw[arr] ([shift={(-6,0)}]s1999.south east) .. controls +(0,25) and +(-15,0) .. (fum.west);
  \draw[darr] (succ.east) .. controls +(30,5) and +(30,-15) .. (fum.east);
  \draw[darr] (xrf.south) .. controls +(2,14) and +(-2,14) .. (xof.south);
  \draw[darr] ([shift={(-4,2)}]hco2a.south east) .. controls +(2,10) and +(-2,10) .. ([shift={(4,2)}]forma.south west);
  \draw[darr] (xra.north) .. controls +(0,-12) and +(0,-12) .. (xoa.north);
  \draw[darr] ([shift={(-8,0)}]h2eb.south east) .. controls +(2,12) and +(-2,12) .. (h2y.south);
  \draw[darr] (xry.north) .. controls +(0,-12) and +(0,-12) .. (xoy.north);
  \draw[arr] ([shift={(4,6)}]xrh.center) .. controls +(9,2) and +(6,-4) .. ([shift={(3,-8)}]xoh.center);
  \draw[arr] ([shift={(3,6)}]h2hp.center) .. controls +(4,16) and +(-4,16) .. ([shift={(-3,8)}]h2h.center);
  \draw[arr] (fdrf.east) .. controls +(14,0) and +(12,-2) .. (fdof.east);
  \draw[arr] (nadhf.east) .. controls +(16,0) and +(14,-4) .. (nadf.east);
  \draw[ln] (co2f.east) .. controls +(12,-2) and +(-2,6) .. (fw.south);
  \draw[arr] (fw.south east) .. controls +(12,40) and +(18,-15) .. ([shift={(8,0)}]form.north);
  \draw[arr] (fdre.east) .. controls +(12,2) and +(12,-2) .. (fdoe.east);
  \draw[arr] (co2e.south west) .. controls +(-22,12) and +(-22,2) .. (form.west);
  \draw[arr] ([shift={(6,0)}]co2g.south) .. controls +(8,20) and +(-4,25) .. ([shift={(-11,0)}]form.south);
  \draw[arr] ([shift={(-4,0)}]fdrg.north) .. controls +(2,-14) and +(-2,-12) .. (fdog.north);
  \draw[arr] (nadhg.north) .. controls +(0,-14) and +(-2,-12) .. ([shift={(10,0)}]nadg.north west);
  \draw[ln] (form.east) -- (t2707.west);
  \draw[arr] (t2707.east) -- (formO.west);
  \draw[arr] (f10.south east) .. controls +(2,10) and +(-6,0) .. ([shift={(-6,-18)}]formb.center);
  \draw[arr] ([shift={(0,8)}]f35.north east) .. controls +(14,-10) and +(-4,-12) .. ([shift={(-6,-16)}]formc.center);
\end{pgfonlayer}
\end{tikzpicture}
\end{document}
